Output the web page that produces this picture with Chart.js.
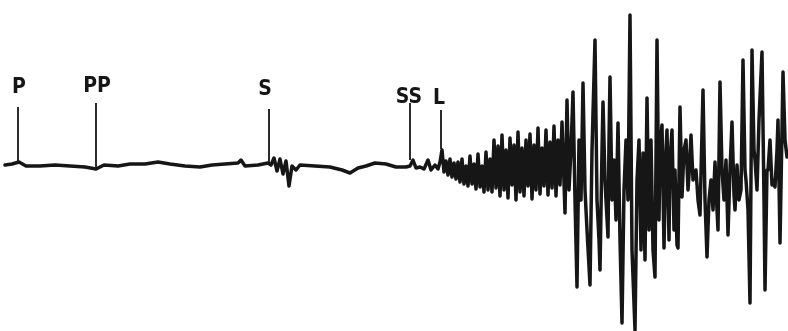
<!DOCTYPE html>
<html>
<head>
<meta charset="utf-8">
<script src="https://cdn.jsdelivr.net/npm/chart.js@4.4.1/dist/chart.umd.min.js"></script>
<style>
html,body{margin:0;padding:0;background:#fff;}
#wrap{width:788px;height:331px;}
</style>
</head>
<body>
<div id="wrap"><canvas id="c"></canvas></div>
<script>
// Seismogram trace: time (x) and ground-motion amplitude (positive = up)
const traceTime = [
  5,12,19,26,40,55,70,85,96,104,118,130,145,158,170,185,200,212,225,238,241,245,258,268,
  271,274,277,280,283,286,289,292,296,300,315,330,342,350,358,366,375,386,396,406,
  410,413,416,420,424,428,431,435,438,
  440,442,444,446,448,450,452,454,456,458,460,462,464,466,468,470,472,474,476,478,480,482,484,486,488,490,
  492,494,496,498,500,502,504,506,508,510,512,514,516,518,520,522,524,526,528,530,532,534,536,538,540,542,544,546,548,550,552,554,556,558,560,562,
  565,567,569,571,573,575,577,579,581,583,585,587,590,592,595,597,599,600,602,603,605,606,608,609,610,612,614,616,618,620,622,624,626,628,630,632,635,637,639,
  641,643,645,647,649,651,653,655,657,659,660,662,664,666,667,669,670,672,674,675,677,678,680,682,684,686,688,689,691,693,696,698,700,703,705,707,709,711,713,
  715,717,718,720,722,724,726,728,730,732,734,735,737,739,741,743,745,746,748,750,752,754,755,757,759,762,764,765,767,768,770,772,773,775,777,778,780,782,783,785,787
];
const traceAmp = [
  0,1,3,-1,-1,0,-1,-2,-4,0,-1,1,1,3,1,-1,-2,0,1,2,5,-1,0,2,
  0,7,-6,6,-9,4,-21,-1,-5,0,-1,-2,-5,-8,-3,-1,2,1,-2,-2,
  -1,5,-3,-2,-4,5,-5,0,-4,
  3,15,-7,4,-10,6,-12,2,-14,3,-17,6,-19,-1,-21,9,-19,1,-24,11,-22,-1,-27,13,-25,6,
  -27,25,-23,19,-31,30,-25,15,-33,27,-20,20,-35,33,-27,17,-31,25,-21,31,-34,20,-25,37,-29,17,-21,35,-30,23,-23,39,-31,25,-20,43,
  -48,65,-25,15,73,-35,-122,25,-35,82,-25,-65,-120,15,125,-35,-75,-105,15,63,-15,-35,-72,25,88,-35,5,-55,42,-75,-158,-25,25,-35,150,-85,-165,-15,25,
  -85,12,-95,67,-65,25,-85,-112,125,-55,15,40,-83,15,35,-75,5,35,-65,-5,-80,-83,58,-32,15,25,-25,-10,30,-15,-5,-35,-50,75,-35,-92,-35,-15,-45,
  3,-45,-65,83,-5,-35,5,-70,-5,43,-30,-45,0,-35,-25,105,-5,-15,-45,-138,115,15,5,-25,45,113,-35,-125,-5,-5,25,-20,-15,-22,15,45,-78,35,93,25,8
];
// Phase markers
const phaseLabels = ["P","PP","S","SS","L"];
const phaseTime   = [18,96,269,410,441];
const phaseTop    = [58,62,56,62,55];
const phaseBottom = [3,-2,2,5,16];
const labelTime   = [19,97,265,409,439];
const labelAmp    = [77,78,75,67,66];

const INK = '#161616';
const traceData = traceTime.map((t,i)=>({x:t,y:traceAmp[i]}));
const datasets = [{
  data: traceData, borderColor: INK, borderWidth: 3.5, pointRadius: 0,
  tension: 0, borderJoinStyle: 'round', borderCapStyle: 'round'
}];
phaseTime.forEach((t,i)=>{
  datasets.push({
    data:[{x:t,y:phaseTop[i]},{x:t,y:phaseBottom[i]}],
    borderColor: INK, borderWidth: 1.8, pointRadius: 0
  });
});

const labelPlugin = {
  id:'phaseLabels',
  afterDatasetsDraw(chart){
    const {ctx, scales:{x,y}} = chart;
    ctx.save();
    ctx.fillStyle = INK;
    ctx.font = "bold 21px 'DejaVu Sans Condensed', 'DejaVu Sans', sans-serif";
    ctx.textAlign = 'center';
    ctx.textBaseline = 'middle';
    phaseLabels.forEach((s,i)=>{
      ctx.fillText(s, x.getPixelForValue(labelTime[i]), y.getPixelForValue(labelAmp[i]));
    });
    ctx.restore();
  }
};

new Chart(document.getElementById('c'), {
  type: 'line',
  data: { datasets },
  options: {
    responsive: true, maintainAspectRatio: false, animation: false,
    layout: { padding: 0 },
    plugins: { legend: {display:false}, tooltip: {enabled:false} },
    scales: {
      x: { type:'linear', min:0, max:788, display:false },
      y: { type:'linear', min:-166, max:165, display:false }
    }
  },
  plugins: [labelPlugin]
});
</script>
</body>
</html>
